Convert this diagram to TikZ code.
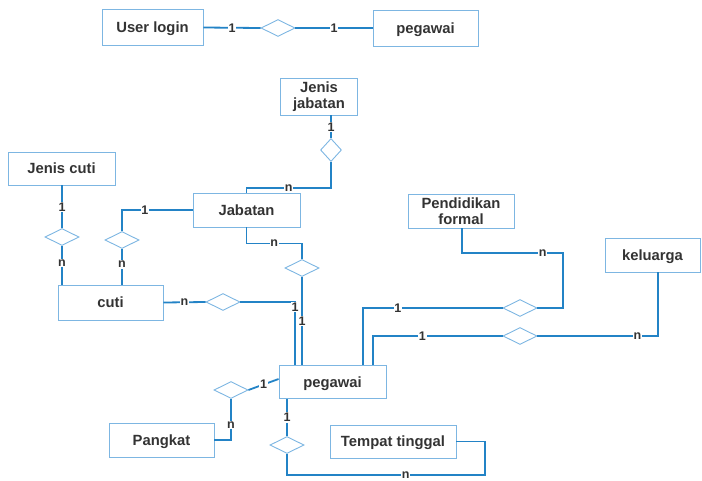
\documentclass[tikz,border=0pt]{standalone}
\usepackage{fontspec}
\setmainfont{Liberation Sans}
\usetikzlibrary{shapes.geometric}
\definecolor{linkblue}{HTML}{2383C6}
\definecolor{edgeblue}{HTML}{7DB6E2}
\definecolor{inktext}{HTML}{333333}
\tikzset{
  entity/.style={draw=edgeblue, line width=0.9pt, rectangle,
    font=\fontsize{14.8}{16.5}\selectfont\bfseries, text=inktext, inner sep=0pt,
    text height=10.6pt, text depth=0pt},
  entity2/.style={draw=edgeblue, line width=0.9pt, rectangle, align=center,
    font=\fontsize{14.8}{16.5}\selectfont\bfseries, text=inktext, inner sep=0pt},
  rel/.style={draw=edgeblue, line width=0.9pt, diamond, aspect=2, inner sep=0pt,
    minimum width=34pt, minimum height=17pt},
  relv/.style={draw=edgeblue, line width=0.9pt, diamond, aspect=1, inner sep=0pt,
    minimum width=21pt, minimum height=23pt},
  link/.style={draw=linkblue, line width=1.8pt},
  card/.style={fill=white, inner sep=0.8pt, text=inktext,
    font=\fontsize{12.5}{12.5}\selectfont\bfseries}
}
\begin{document}
\begin{tikzpicture}[x=1pt,y=-1pt]
\useasboundingbox (0,0) rectangle (702,480);

% entities
\node[entity, minimum width=101pt, minimum height=36pt] (ulogin) at (152.5,27.5) {User login};
\node[entity, minimum width=105pt, minimum height=36pt] (pegtop) at (425.5,28) {pegawai};
\node[entity2, minimum width=77pt, minimum height=37pt] (jjab) at (319,96.5) {Jenis\\jabatan};
\node[entity, minimum width=107pt, minimum height=33pt] (jcuti) at (61.5,168.5) {Jenis cuti};
\node[entity, minimum width=107pt, minimum height=34pt] (jab) at (246.5,210) {Jabatan};
\node[entity, minimum width=105pt, minimum height=35pt] (cuti) at (110.5,302.5) {cuti};
\node[entity, minimum width=107pt, minimum height=33pt] (peg) at (332.5,382) {pegawai};
\node[entity, minimum width=105pt, minimum height=34pt] (pangkat) at (161.5,440) {Pangkat};
\node[entity, minimum width=126pt, minimum height=33pt] (tempat) at (393,441.5) {Tempat tinggal};
\node[entity2, minimum width=106pt, minimum height=34pt] (pend) at (461,211) {Pendidikan\\formal};
\node[entity, minimum width=95pt, minimum height=34pt] (kel) at (652.5,255) {keluarga};

% relationships
\node[rel] (r1) at (278,28) {};
\node[relv] (r2) at (331,150) {};
\node[rel] (r3) at (62,237) {};
\node[rel] (r4) at (122,240) {};
\node[rel] (r5) at (302,268) {};
\node[rel] (r6) at (223,302) {};
\node[rel] (r7) at (520,308) {};
\node[rel] (r8) at (520,336) {};
\node[rel] (r9) at (231,390) {};
\node[rel] (r10) at (287,445) {};

% User login -- pegawai
\draw[link] (ulogin.east) -- node[card] {1} (r1.west);
\draw[link] (r1.east) -- node[card] {1} (pegtop.west);

% Jenis jabatan -- Jabatan
\draw[link] (r2.north |- jjab.south) -- node[card] {1} (r2.north);
\draw[link] (r2.south) -- ++(0,26) coordinate (jj1) -- node[card] {n} (jj1 -| jab.north) -- (jab.north);

% Jenis cuti -- cuti
\draw[link] (jcuti.south -| r3) -- node[card] {1} (r3.north);
\draw[link] (r3.south) -- node[card, pos=0.44] {n} (r3.south |- cuti.north);

% Jabatan -- cuti
\draw[link] (jab.west) -- node[card, pos=0.675] {1} (jab.west -| r4) -- (r4.north);
\draw[link] (r4.south) -- node[card, pos=0.44] {n} (r4.south |- cuti.north);

% Jabatan -- pegawai
\draw[link] (jab.south) -- ++(0,16) -| node[card, pos=0.25] {n} (r5.north);
\draw[link] (r5.south) -- node[card] {1} (r5.south |- peg.north);

% cuti -- pegawai
\draw[link] (cuti.east) -- node[card] {n} (r6.west);
\draw[link] (r6.east) -| node[card, pos=0.54] {1} (peg.north -| 295,0);

% Pendidikan formal -- pegawai
\draw[link] ([xshift=1pt]pend.south) |- node[card, pos=0.9] {n} (563,253) -- (563,308) -- (r7.east);
\draw[link] (r7.west) -| node[card, pos=0.375] {1} (peg.north -| 363,0);

% keluarga -- pegawai
\draw[link] ([xshift=5.5pt]kel.south) |- node[card, pos=0.585] {n} (r8.east);
\draw[link] (r8.west) -| node[card, pos=0.31] {1} (peg.north -| 373,0);

% Pangkat -- pegawai
\draw[link] (pangkat.east) -| node[card, pos=0.68] {n} (r9.south);
\draw[link] (r9.east) -- node[card] {1} ([yshift=3pt]peg.west);

% pegawai -- Tempat tinggal
\draw[link] (r10.north |- peg.south) -- node[card] {1} (r10.north);
\draw[link] (r10.south) |- node[card, pos=0.8] {n} (485,475) |- (tempat.east);
\end{tikzpicture}
\end{document}
